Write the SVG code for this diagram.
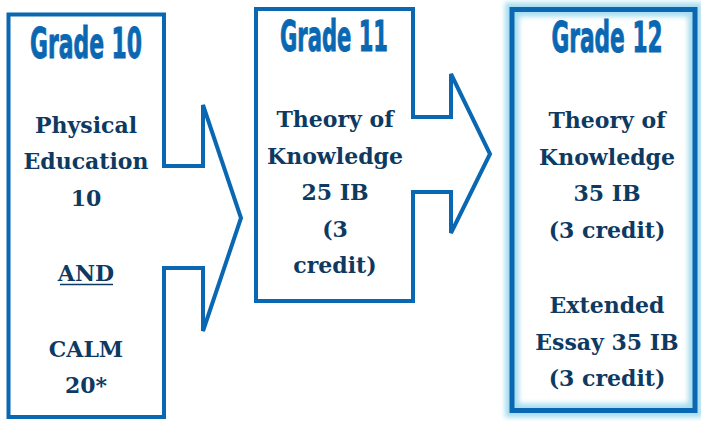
<svg xmlns="http://www.w3.org/2000/svg" width="701" height="421" viewBox="0 0 701 421">
<defs>
<style>
.shape{fill:#fff;stroke:#0A68B2;stroke-width:4;stroke-linejoin:miter}
.title{font-family:"Liberation Sans Narrow","DejaVu Sans Condensed",sans-serif;font-weight:bold;font-size:42px;fill:#0A68B2;stroke:#0A68B2;stroke-width:0.9;text-anchor:middle}
.body{font-family:"DejaVu Serif","Liberation Serif",serif;font-weight:bold;font-size:22px;fill:#0E3A62;text-anchor:middle}
</style>
<filter id="glow" x="-10%" y="-10%" width="120%" height="120%">
<feGaussianBlur stdDeviation="2.5"/>
</filter>
</defs>
<rect width="701" height="421" fill="#fff"/>
<g id="grade10">
<path class="shape" d="M8.5,14.5 H164 V166 H203 V105 L241,218 L203,331 V268 H164 V417 H8.5 Z"/>
<text class="title" transform="translate(86,58) scale(0.8,1)" textLength="140" lengthAdjust="spacingAndGlyphs">Grade 10</text>
<text class="body" x="86" y="133">Physical</text>
<text class="body" x="86" y="169">Education</text>
<text class="body" x="86" y="206">10</text>
<text class="body" x="86" y="281">AND</text>
<line x1="60" y1="284.5" x2="113" y2="284.5" stroke="#0E3A62" stroke-width="1.6"/>
<text class="body" x="86" y="357">CALM</text>
<text class="body" x="86" y="393">20*</text>
</g>
<g id="grade11">
<path class="shape" d="M256,9 H413 V117 H451 V74 L490,154 L451,233 V192 H413 V301 H256 Z"/>
<text class="title" transform="translate(334,51) scale(0.8,1)" textLength="135" lengthAdjust="spacingAndGlyphs">Grade 11</text>
<text class="body" x="335" y="127">Theory of</text>
<text class="body" x="335" y="164">Knowledge</text>
<text class="body" x="335" y="200">25 IB</text>
<text class="body" x="335" y="237">(3</text>
<text class="body" x="335" y="273">credit)</text>
</g>
<g id="grade12">
<rect x="512" y="9.5" width="183" height="401" fill="none" stroke="#A6DDF0" stroke-width="14" filter="url(#glow)"/>
<rect x="512" y="9.5" width="183" height="401" fill="none" stroke="#0A68B2" stroke-width="5"/>
<text class="title" transform="translate(607,52) scale(0.8,1)" textLength="139" lengthAdjust="spacingAndGlyphs">Grade 12</text>
<text class="body" x="607" y="128">Theory of</text>
<text class="body" x="607" y="165">Knowledge</text>
<text class="body" x="607" y="201">35 IB</text>
<text class="body" x="607" y="238">(3 credit)</text>
<text class="body" x="607" y="313">Extended</text>
<text class="body" x="607" y="350">Essay 35 IB</text>
<text class="body" x="607" y="386">(3 credit)</text>
</g>
<g id="connectors"></g>
</svg>
